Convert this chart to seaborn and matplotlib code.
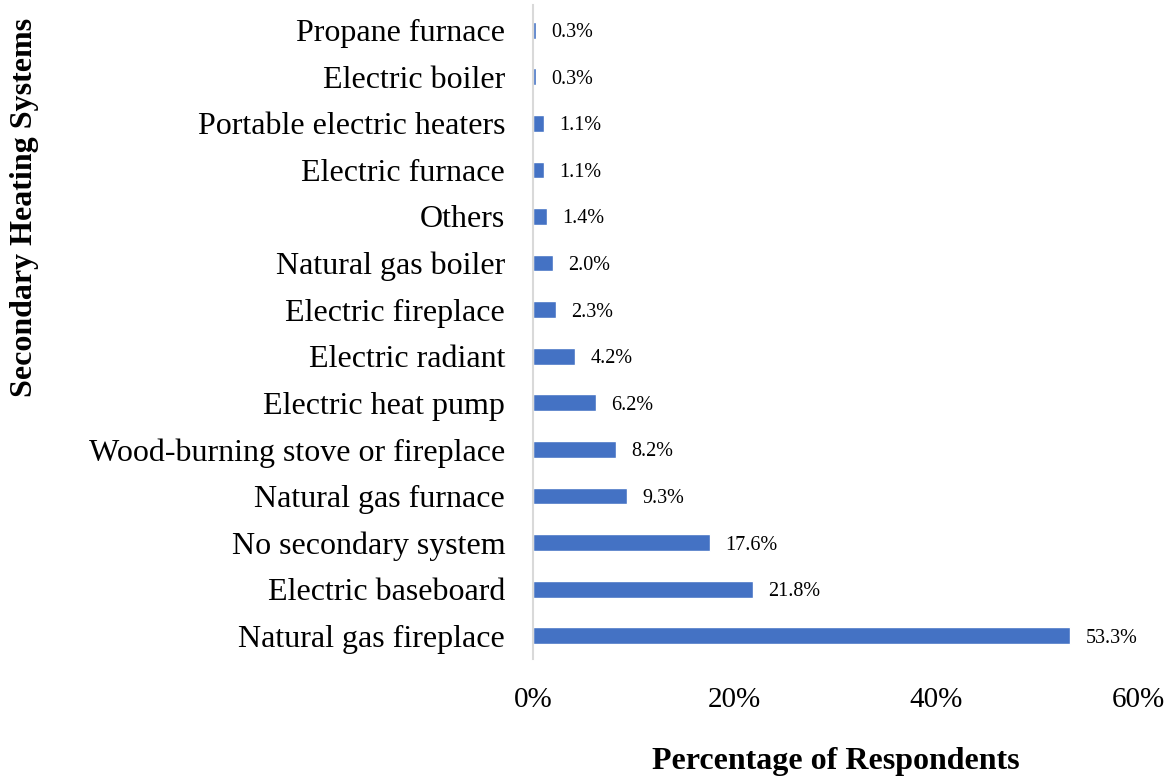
import matplotlib
matplotlib.use("Agg")
import matplotlib.pyplot as plt
import seaborn as sns
import pandas as pd
from matplotlib.ticker import PercentFormatter

# data (top to bottom)
systems = ["Propane furnace", "Electric boiler", "Portable electric heaters",
           "Electric furnace", "Others", "Natural gas boiler", "Electric fireplace",
           "Electric radiant", "Electric heat pump", "Wood-burning stove or fireplace",
           "Natural gas furnace", "No secondary system", "Electric baseboard",
           "Natural gas fireplace"]
percent = [0.3, 0.3, 1.1, 1.1, 1.4, 2.0, 2.3, 4.2, 6.2, 8.2, 9.3, 17.6, 21.8, 53.3]

df = pd.DataFrame({"system": systems, "pct": percent})

sns.set_style("white")
plt.rcParams["font.family"] = ["Liberation Serif", "DejaVu Serif"]
plt.rcParams["text.color"] = "black"
plt.rcParams["xtick.color"] = "black"
plt.rcParams["ytick.color"] = "black"
plt.rcParams["axes.labelcolor"] = "black"

fig = plt.figure(figsize=(11.66, 7.76), dpi=100)
ax = fig.add_axes([533 / 1166, 1 - 659 / 776, (1138 - 533) / 1166, (659 - 5) / 776])

sns.barplot(data=df, x="pct", y="system", color="#4472C4", width=0.36,
            saturation=1, ax=ax, orient="h")

for i, v in enumerate(percent):
    ax.text(v + 1.5, i, f"{v:.1f}%", va="center_baseline", ha="left", fontsize=14.5)

ax.set_xlim(0, 60)
ax.set_ylim(13.5, -0.54)
ax.set_xticks([0, 20, 40, 60])
ax.xaxis.set_major_formatter(PercentFormatter(decimals=0))
ax.tick_params(axis="x", length=0, pad=20, labelsize=21)
ax.tick_params(axis="y", length=0, pad=20, labelsize=23)

for s in ["top", "right", "bottom"]:
    ax.spines[s].set_visible(False)
ax.spines["left"].set_color("#d9d9d9")
ax.spines["left"].set_linewidth(1.5)

ax.set_ylabel("")
ax.set_xlabel("Percentage of Respondents", fontsize=23, fontweight="bold", labelpad=25)
fig.text(25 / 1166, 1 - 207 / 776, "Secondary Heating Systems", rotation=90,
         ha="center", va="center", fontsize=23, fontweight="bold")

fig.savefig("out.png", dpi=100)
